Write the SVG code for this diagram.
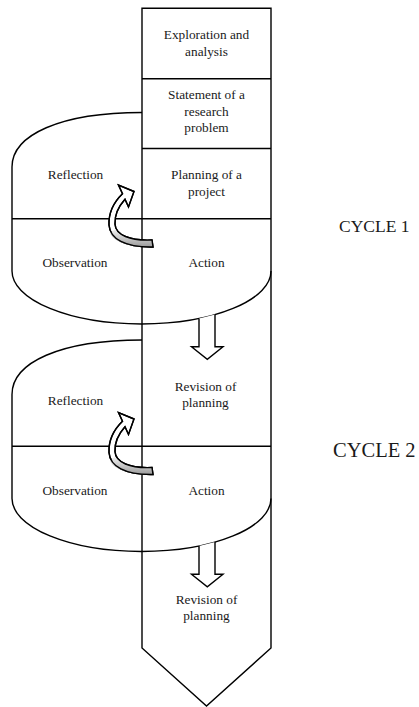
<svg xmlns="http://www.w3.org/2000/svg" width="419" height="707" viewBox="0 0 419 707" font-family="'Liberation Serif', 'Times New Roman', serif">
<defs>
<style>
.ln{fill:none;stroke:#000;stroke-width:1.4}
.sh{fill:#fff;stroke:#000;stroke-width:1.4}
.t{font-size:13.3px;fill:#1a1a1a;text-anchor:middle}
.cy{fill:#1a1a1a}
</style>
<linearGradient id="gr" x1="0" y1="0" x2="0" y2="1">
<stop offset="0" stop-color="#f2f2f2"/>
<stop offset="0.5" stop-color="#c8c8c8"/>
<stop offset="1" stop-color="#9a9a9a"/>
</linearGradient>
<g id="curl">
<path class="sh" d="M122.5,193.8 L118.5,185 L134,191.5 L128.5,207 L125,199.3 C119,206 114.5,214 115,224 C115.5,235 130,241 152,240 L153,247 C125,247.5 110,239 109,225 C108.5,212 114,202 122.5,193.8 Z"/>
<path d="M115.4,229 C119,236 132,241 152,240 L153,247 C128,247.5 113,241 110,233 Z" fill="url(#gr)"/>
<path class="ln" d="M122.5,193.8 L118.5,185 L134,191.5 L128.5,207 L125,199.3 C119,206 114.5,214 115,224 C115.5,235 130,241 152,240 L153,247 C125,247.5 110,239 109,225 C108.5,212 114,202 122.5,193.8 Z"/>
</g>
<path id="down" class="sh" d="M199,318.5 V346.7 H191.5 L207.3,359.3 L223,346.7 H215 V314.6"/>
<path id="cyc" class="ln" d="M142,112.5 C60,112.5 12,135 12,167 V271 A129.5,53 0 0 0 271,271"/>
</defs>

<g id="cycle1-shape">
<use href="#cyc"/>
<line class="ln" x1="12" y1="218.7" x2="271" y2="218.7"/>
</g>
<g id="cycle2-shape" transform="translate(0,227.5)">
<use href="#cyc"/>
<line class="ln" x1="12" y1="218.7" x2="271" y2="218.7"/>
</g>

<g id="column">
<path class="ln" d="M142,8.3 H271 V648 L206.5,706 L142,648 Z"/>
<line class="ln" x1="142" y1="78.7" x2="271" y2="78.7"/>
<line class="ln" x1="142" y1="148.5" x2="271" y2="148.5"/>
</g>

<g id="connectors">
<use href="#down"/>
<use href="#down" transform="translate(0,227.5)"/>
<use href="#curl"/>
<use href="#curl" transform="translate(0,227.5)"/>
</g>

<g id="exploration"><text class="t" x="206.5" y="39">Exploration and</text><text class="t" x="206.5" y="56">analysis</text></g>
<g id="statement"><text class="t" x="206.5" y="99.3">Statement of a</text><text class="t" x="206.5" y="115.5">research</text><text class="t" x="206.5" y="131.7">problem</text></g>
<g id="reflection1"><text class="t" x="75.5" y="178.5">Reflection</text></g>
<g id="planning1"><text class="t" x="206.5" y="178.5">Planning of a</text><text class="t" x="206.5" y="195.5">project</text></g>
<g id="observation1"><text class="t" x="75" y="266.7">Observation</text></g>
<g id="action1"><text class="t" x="206.5" y="266.7">Action</text></g>
<g id="cycle1-label"><text class="cy" x="339" y="231.5" font-size="17.5">CYCLE 1</text></g>

<g id="reflection2"><text class="t" x="75.5" y="404.5">Reflection</text></g>
<g id="revision1"><text class="t" x="205.5" y="390.5">Revision of</text><text class="t" x="205.5" y="406.5">planning</text></g>
<g id="observation2"><text class="t" x="75" y="495">Observation</text></g>
<g id="action2"><text class="t" x="206.5" y="495">Action</text></g>
<g id="cycle2-label"><text class="cy" x="333" y="457" font-size="20.5">CYCLE 2</text></g>

<g id="revision2"><text class="t" x="206.5" y="604">Revision of</text><text class="t" x="206.5" y="620">planning</text></g>
</svg>
